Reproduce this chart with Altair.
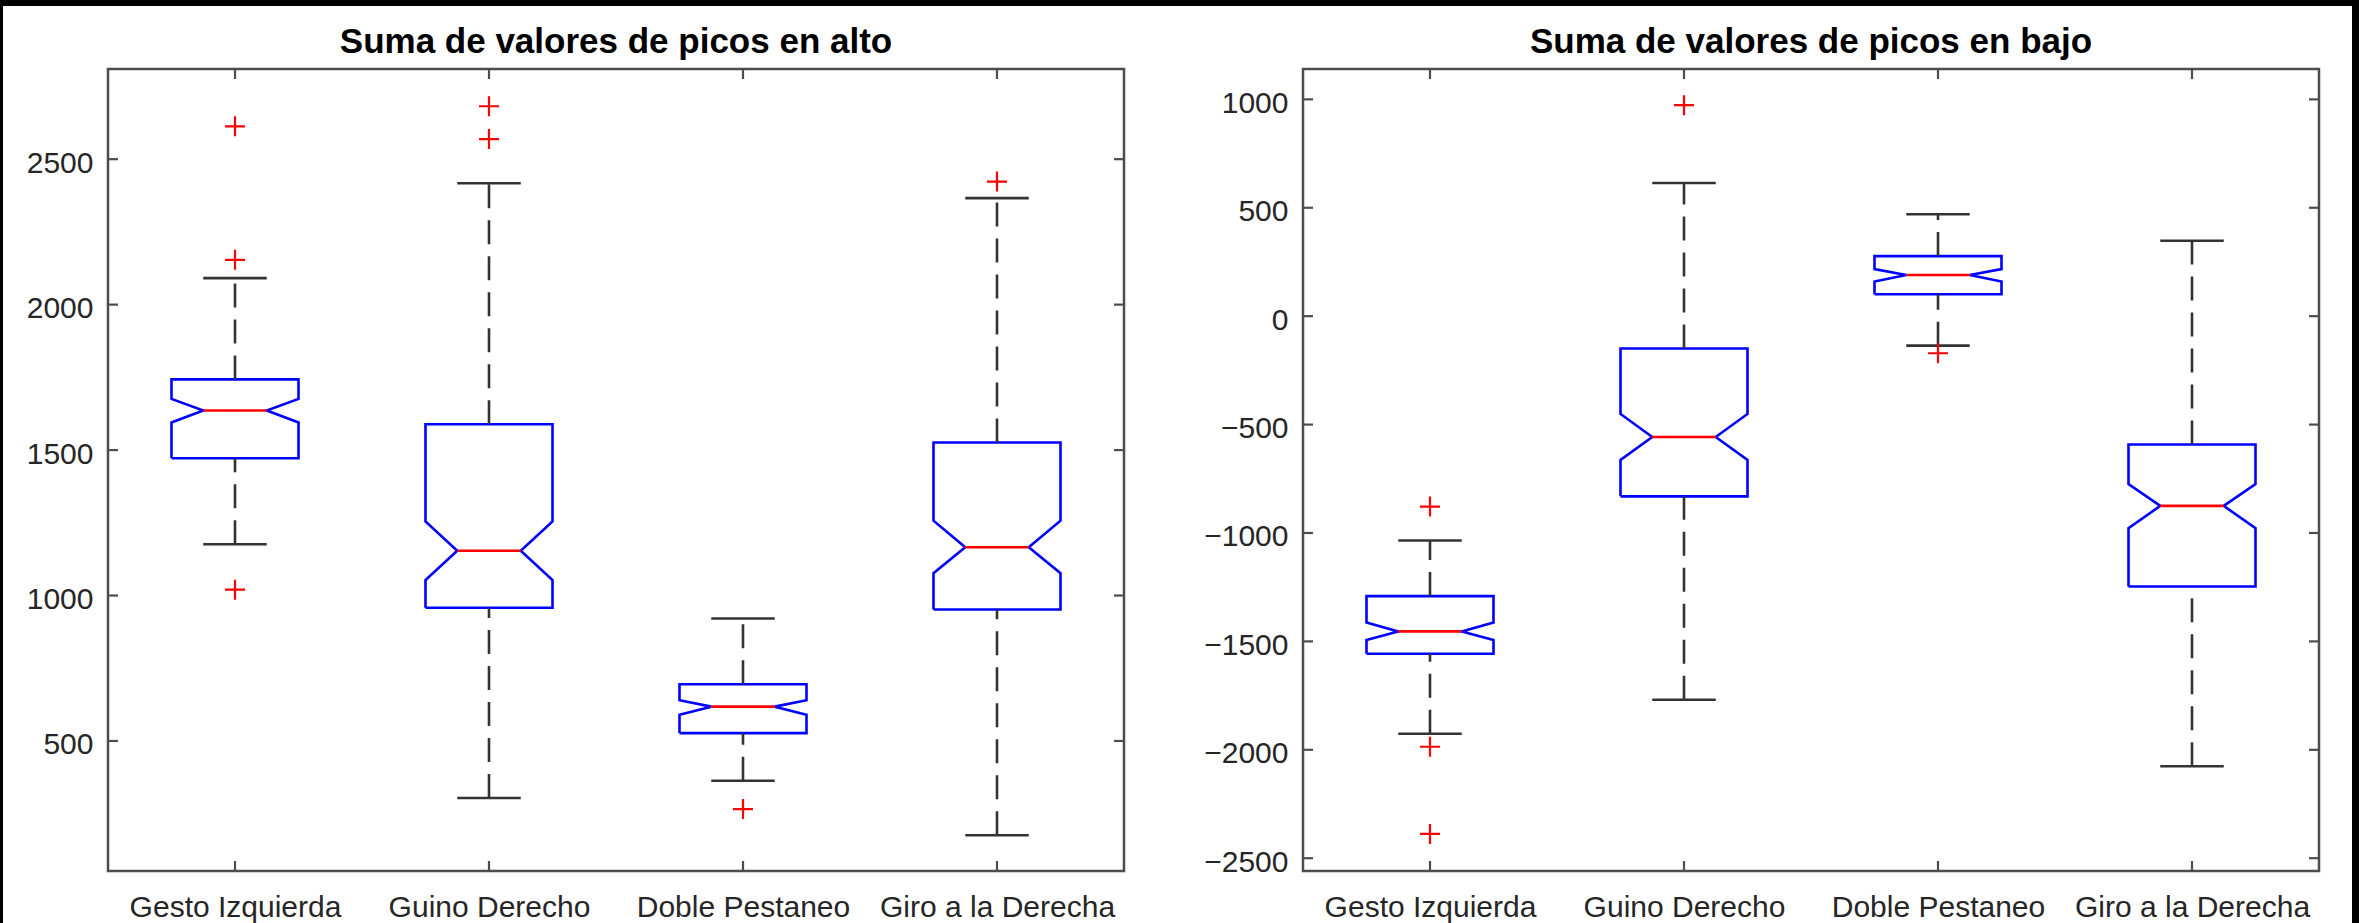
import altair as alt
import pandas as pd

categories = ["Gesto Izquierda", "Guino Derecho", "Doble Pestaneo", "Giro a la Derecha"]

# Suma de valores de picos en alto
alto_q1 = [1472, 958, 527, 952]
alto_median = [1636, 1154, 618, 1166]
alto_q3 = [1743, 1589, 695, 1526]
alto_notch_lo = [1595, 1053, 590, 1077]
alto_notch_hi = [1676, 1255, 640, 1257]
alto_whisker_lo = [1176, 304, 363, 176]
alto_whisker_hi = [2091, 2417, 921, 2366]
alto_outliers = [[2613, 2154, 1020], [2682, 2569], [266], [2423]]
alto_ticks = [500, 1000, 1500, 2000, 2500]
alto_limits = [53, 2810]

# Suma de valores de picos en bajo
bajo_q1 = [-1557, -831, 101, -1247]
bajo_median = [-1454, -557, 190, -875]
bajo_q3 = [-1291, -149, 277, -592]
bajo_notch_lo = [-1494, -663, 160, -978]
bajo_notch_hi = [-1413, -451, 217, -774]
bajo_whisker_lo = [-1926, -1769, -136, -2076]
bajo_whisker_hi = [-1035, 614, 470, 348]
bajo_outliers = [[-878, -1986, -2388], [973], [-171], []]
bajo_ticks = [-2500, -2000, -1500, -1000, -500, 0, 500, 1000]
bajo_limits = [-2559, 1140]

W, H = 1016, 802
BOX_HALF = 0.25
NOTCH_HALF = 0.125
FONT = "Liberation Sans"
LABEL_SIZE = 30
BLUE, RED, WHISKER, FRAME = "#0000ff", "#ff0000", "#333333", "#4d4d4d"
PLUS = "M-1,0L1,0M0,-1L0,1"


def panel(title, q1, med, q3, nlo, nhi, wlo, whi, outliers, ticks, limits, border):
    pos = list(range(1, len(categories) + 1))
    xs = alt.Scale(domain=[0.5, len(categories) + 0.5], nice=False, zero=False)
    ys = alt.Scale(domain=limits, nice=False, zero=False)
    names = ",".join("'%s'" % c for c in categories)
    x_axis = alt.Axis(values=pos, labelExpr="[%s][datum.value - 1]" % names,
                      ticks=False, tickSize=0, domain=False, grid=False, title=None,
                      labelFont=FONT, labelFontSize=LABEL_SIZE, labelColor="#262626",
                      labelPadding=21, labelFlush=False, labelOverlap=False,
                      labelBound=False, labelLimit=600)
    y_axis = alt.Axis(values=ticks, format="d", ticks=False, tickSize=0, domain=False,
                      grid=False, title=None, labelFont=FONT, labelFontSize=LABEL_SIZE,
                      labelColor="#262626", labelPadding=15, labelOffset=4,
                      labelOverlap=False, labelLimit=600)

    # notched box outlines, one closed path per group
    rows = []
    for i, p in enumerate(pos):
        pts = [(p - BOX_HALF, q1[i]), (p - BOX_HALF, nlo[i]), (p - NOTCH_HALF, med[i]),
               (p - BOX_HALF, nhi[i]), (p - BOX_HALF, q3[i]), (p + BOX_HALF, q3[i]),
               (p + BOX_HALF, nhi[i]), (p + NOTCH_HALF, med[i]), (p + BOX_HALF, nlo[i]),
               (p + BOX_HALF, q1[i]), (p - BOX_HALF, q1[i])]
        for k, (x, y) in enumerate(pts):
            rows.append({"cat": categories[i], "k": k, "x": x, "y": y})
    outline = pd.DataFrame(rows)

    stats = pd.DataFrame({"cat": categories, "pos": pos, "q1": q1, "med": med, "q3": q3,
                          "wlo": wlo, "whi": whi,
                          "xl": [p - NOTCH_HALF for p in pos],
                          "xr": [p + NOTCH_HALF for p in pos]})
    out = pd.DataFrame([{"pos": pos[i], "v": v} for i, vs in enumerate(outliers) for v in vs])
    yt = pd.DataFrame({"v": ticks})
    xt = pd.DataFrame({"v": pos})
    one = pd.DataFrame({"t": [title]})

    # every layer shares the same scales and axis settings
    X = lambda f: alt.X(f, scale=xs, axis=x_axis)
    Y = lambda f: alt.Y(f, scale=ys, axis=y_axis)

    boxes = alt.Chart(outline).mark_line(color=BLUE, strokeWidth=2.6).encode(
        x=X("x:Q"), y=Y("y:Q"), detail="cat:N", order="k:Q")
    base = alt.Chart(stats)
    dash = dict(color=WHISKER, strokeWidth=2.6, strokeDash=[24, 12])
    upper = base.mark_rule(**dash).encode(x=X("pos:Q"), y=Y("q3:Q"), y2="whi:Q")
    lower = base.mark_rule(**dash).encode(x=X("pos:Q"), y=Y("wlo:Q"), y2="q1:Q")
    cap_hi = base.mark_rule(color=WHISKER, strokeWidth=2.6).encode(x=X("xl:Q"), x2="xr:Q", y=Y("whi:Q"))
    cap_lo = base.mark_rule(color=WHISKER, strokeWidth=2.6).encode(x=X("xl:Q"), x2="xr:Q", y=Y("wlo:Q"))
    median = base.mark_rule(color=RED, strokeWidth=2.6).encode(x=X("xl:Q"), x2="xr:Q", y=Y("med:Q"))
    marks = alt.Chart(out).mark_point(shape=PLUS, size=400, color=RED, filled=False,
                                      strokeWidth=2.2, opacity=1).encode(x=X("pos:Q"), y=Y("v:Q"))

    tick_style = dict(color=FRAME, strokeWidth=2.2)
    yt_left = alt.Chart(yt).mark_rule(**tick_style).encode(y=Y("v:Q"), x=alt.value(0), x2=alt.value(10))
    yt_right = alt.Chart(yt).mark_rule(**tick_style).encode(y=Y("v:Q"), x=alt.value(W - 10), x2=alt.value(W))
    xt_top = alt.Chart(xt).mark_rule(**tick_style).encode(x=X("v:Q"), y=alt.value(0), y2=alt.value(10))
    xt_bot = alt.Chart(xt).mark_rule(**tick_style).encode(x=X("v:Q"), y=alt.value(H - 10), y2=alt.value(H))
    frame = alt.Chart(one).mark_rect(filled=False, stroke=FRAME, strokeWidth=2.5).encode(
        x=alt.value(0), x2=alt.value(W), y=alt.value(0), y2=alt.value(H))
    heading = alt.Chart(one).mark_text(font=FONT, fontSize=35, fontWeight="bold", color="black",
                                       align="center", baseline="alphabetic").encode(
        text="t:N", x=alt.value(W / 2), y=alt.value(-16))

    layers = [boxes, upper, lower, cap_hi, cap_lo, median, marks,
              yt_left, yt_right, xt_top, xt_bot, frame, heading]
    if border:
        # thin dark edge around the whole figure (top, left and right)
        edge = dict(color="black", opacity=1)
        layers += [
            alt.Chart(one).mark_rect(**edge).encode(
                x=alt.value(-108), x2=alt.value(2251), y=alt.value(-69), y2=alt.value(-63)),
            alt.Chart(one).mark_rect(**edge).encode(
                x=alt.value(-108), x2=alt.value(-105), y=alt.value(-69), y2=alt.value(854)),
            alt.Chart(one).mark_rect(**edge).encode(
                x=alt.value(2244), x2=alt.value(2251), y=alt.value(-69), y2=alt.value(854)),
        ]

    return alt.layer(*layers).properties(width=W, height=H)


left = panel("Suma de valores de picos en alto", alto_q1, alto_median, alto_q3,
             alto_notch_lo, alto_notch_hi, alto_whisker_lo, alto_whisker_hi,
             alto_outliers, alto_ticks, alto_limits, True)
right = panel("Suma de valores de picos en bajo", bajo_q1, bajo_median, bajo_q3,
              bajo_notch_lo, bajo_notch_hi, bajo_whisker_lo, bajo_whisker_hi,
              bajo_outliers, bajo_ticks, bajo_limits, False)

chart = alt.hconcat(left, right, spacing=179, bounds="flush").configure(
    background="white",
    padding={"left": 0, "top": 0, "right": 0, "bottom": 0},
).configure_view(stroke=None)

chart.save("out.html", embed_options={"renderer": "svg", "actions": False})
